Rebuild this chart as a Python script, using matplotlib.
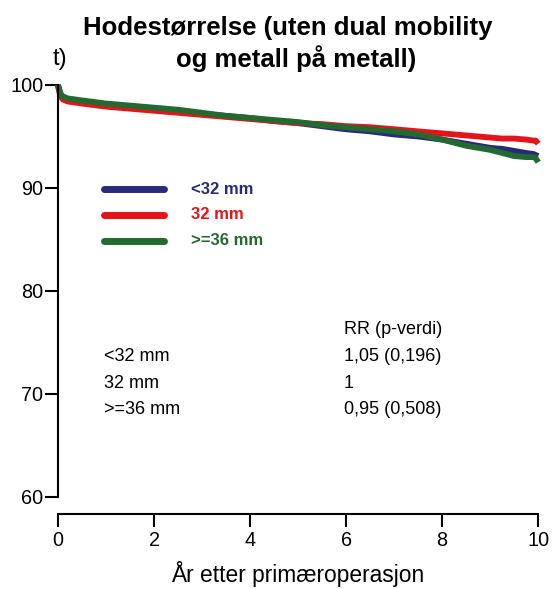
import matplotlib.pyplot as plt

plt.rcParams["font.family"] = ["Liberation Sans", "DejaVu Sans"]

# Cumulative survival (%) by femoral head size, read per year
years = [0, 0.02, 0.05, 0.1, 0.2, 0.5, 1.0, 1.5, 2.0, 2.5, 3.0, 3.5, 4.0,
         4.5, 5.0, 5.5, 6.0, 6.5, 7.0, 7.5, 8.0, 8.25, 8.5, 8.75, 9.0, 9.25,
         9.5, 9.75, 9.9, 9.95, 10.0]
surv_lt32 = [100, 99.6, 99.1, 98.8, 98.6, 98.4, 98.1, 97.9, 97.7, 97.5, 97.2,
             97.0, 96.8, 96.5, 96.3, 96.0, 95.7, 95.5, 95.2, 95.0, 94.7, 94.5,
             94.3, 94.1, 93.9, 93.8, 93.6, 93.4, 93.3, 93.2, 93.1]
surv_32 = [100, 99.5, 98.9, 98.6, 98.4, 98.2, 97.9, 97.7, 97.5, 97.3, 97.1,
           96.9, 96.7, 96.5, 96.3, 96.2, 96.0, 95.9, 95.7, 95.5, 95.3, 95.2,
           95.1, 95.0, 94.9, 94.8, 94.8, 94.7, 94.6, 94.6, 94.3]
surv_ge36 = [100, 99.7, 99.2, 98.9, 98.7, 98.5, 98.2, 98.0, 97.8, 97.6, 97.3,
             97.0, 96.8, 96.6, 96.4, 96.1, 95.9, 95.7, 95.5, 95.2, 94.7, 94.4,
             94.1, 93.9, 93.7, 93.4, 93.1, 93.0, 93.0, 92.9, 92.5]

groups = ["<32 mm", "32 mm", ">=36 mm"]
colors = ["#2b2a78", "#e5141b", "#236a30"]
rr_labels = ["1,05 (0,196)", "1", "0,95 (0,508)"]

fig = plt.figure(figsize=(5.52, 5.89), dpi=100)
ax = fig.add_axes([0.105, 0.1562, 0.870, 0.6995])

for values, color in zip([surv_lt32, surv_32, surv_ge36], colors):
    ax.plot(years, values, color=color, linewidth=4.2, clip_on=False,
            solid_capstyle="butt")

ax.set_xlim(0, 10)
ax.set_ylim(60, 100)
ax.set_xticks(range(0, 11, 2))
ax.set_yticks(range(60, 101, 10))

for side in ["top", "right"]:
    ax.spines[side].set_visible(False)
ax.spines["bottom"].set_position(("outward", 12.5))
for side in ["left", "bottom"]:
    ax.spines[side].set_linewidth(1.5)
ax.tick_params(axis="both", width=1.5, length=9.5, labelsize=14.3, pad=1)
ax.tick_params(axis="x", pad=2.5)

ax.set_xlabel("År etter primæroperasjon", fontsize=16.4, labelpad=8)

# legend drawn as line samples with coloured bold labels
legend_y = [89.9, 87.4, 84.9]
for label, color, y in zip(groups, colors, legend_y):
    ax.plot([0.95, 2.2], [y, y], color=color, linewidth=5,
            solid_capstyle="round")
    ax.text(2.78, y, label, color=color, fontsize=12, fontweight="bold",
            va="center", ha="left")

# relative risk table
ax.text(5.95, 76.3, "RR (p-verdi)", fontsize=13, va="center", ha="left")
for i, (label, rr) in enumerate(zip(groups, rr_labels)):
    y = 73.6 - i * 2.55
    ax.text(0.95, y, label, fontsize=13, va="center", ha="left")
    ax.text(5.95, y, rr, fontsize=13, va="center", ha="left")

fig.text(0.522, 0.953, "Hodestørrelse (uten dual mobility", fontsize=18.5,
         fontweight="bold", ha="center", va="center")
fig.text(0.536, 0.900, "og metall på metall)", fontsize=18.5,
         fontweight="bold", ha="center", va="center")
fig.text(0.096, 0.900, "t)", fontsize=17, ha="left", va="center")

fig.savefig("out.png", dpi=100)
